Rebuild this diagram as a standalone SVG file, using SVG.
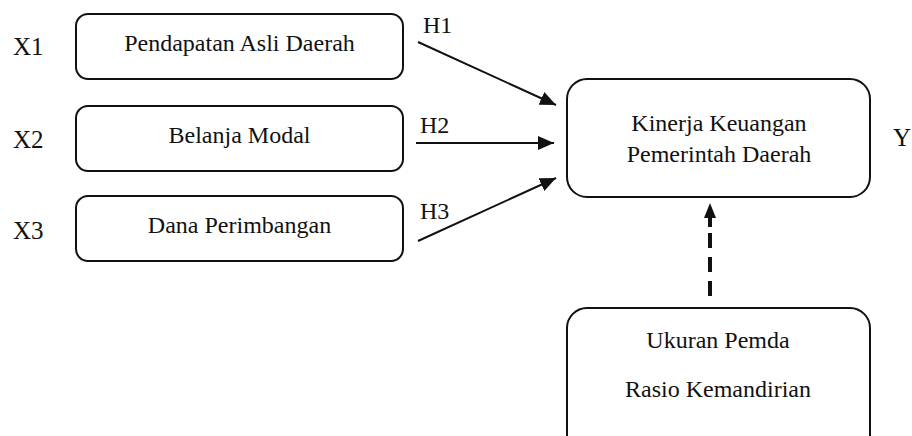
<svg xmlns="http://www.w3.org/2000/svg" width="912" height="436" viewBox="0 0 912 436">
<style>
text{font-family:"Liberation Serif","Times New Roman",serif;fill:#111;font-size:24px}
.lbl{font-size:25px}
.c{text-anchor:middle}
.box{fill:#fff;stroke:#111;stroke-width:2}
.ln{stroke:#111;stroke-width:2;fill:none}
.dash{stroke:#111;stroke-width:4;fill:none;stroke-dasharray:15 9}
</style>
<defs>
<marker id="ah" markerUnits="userSpaceOnUse" markerWidth="16" markerHeight="14" refX="16" refY="7" orient="auto">
<path d="M0,0 L16,7 L0,14 Z" fill="#111"/>
</marker>
</defs>
<rect width="912" height="436" fill="#fff"/>
<g id="labels">
<text class="lbl" x="13" y="55">X1</text>
<text class="lbl" x="13" y="148">X2</text>
<text class="lbl" x="13" y="239">X3</text>
<text class="lbl" x="893" y="146">Y</text>
</g>
<g id="x1">
<rect class="box" x="76" y="14" width="327" height="65" rx="12"/>
<text class="c" x="239.5" y="51">Pendapatan Asli Daerah</text>
</g>
<g id="x2">
<rect class="box" x="76" y="106" width="327" height="65" rx="12"/>
<text class="c" x="239.5" y="143">Belanja Modal</text>
</g>
<g id="x3">
<rect class="box" x="76" y="196" width="327" height="65" rx="12"/>
<text class="c" x="239.5" y="233">Dana Perimbangan</text>
</g>
<g id="y">
<rect class="box" x="567" y="79" width="303" height="118" rx="20"/>
<text class="c" x="719" y="131">Kinerja Keuangan</text>
<text class="c" x="719" y="162">Pemerintah Daerah</text>
</g>
<g id="moderator">
<rect class="box" x="567" y="308" width="303" height="150" rx="20"/>
<text class="c" x="718" y="348">Ukuran Pemda</text>
<text class="c" x="718" y="397">Rasio Kemandirian</text>
</g>
<g id="connectors">
<line class="ln" x1="418" y1="42" x2="556" y2="105" marker-end="url(#ah)"/>
<line class="ln" x1="416" y1="143" x2="554" y2="143" marker-end="url(#ah)"/>
<line class="ln" x1="418" y1="241" x2="556" y2="178" marker-end="url(#ah)"/>
<line class="dash" x1="710" y1="296" x2="710" y2="233"/>
<line x1="710" y1="227" x2="710" y2="214" stroke="#111" stroke-width="4"/>
<path d="M704,218 L710,203 L716,218 Z" fill="#111"/>
<text x="423" y="33">H1</text>
<text x="420" y="133">H2</text>
<text x="420" y="219">H3</text>
</g>
</svg>
